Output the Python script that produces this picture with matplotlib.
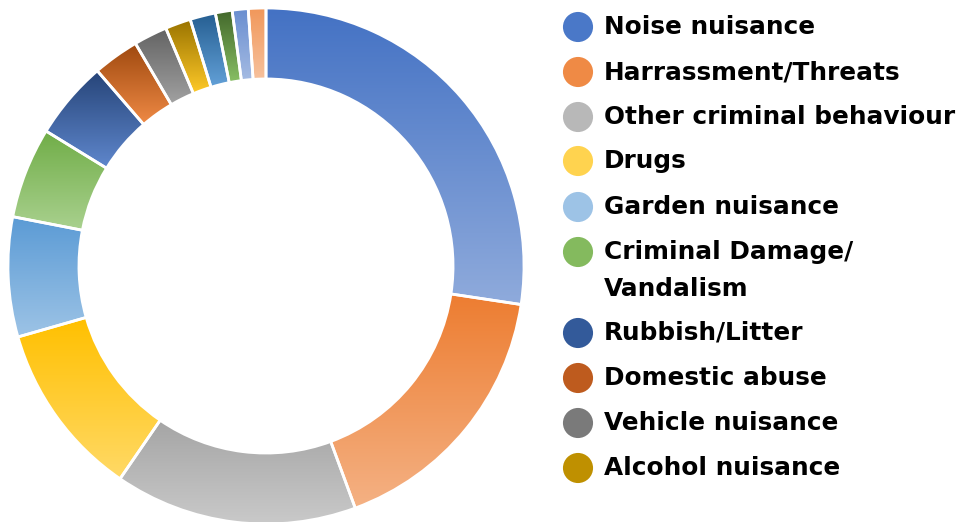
import colorsys
import numpy as np
import matplotlib.pyplot as plt
from matplotlib.colors import to_rgb

categories = ["Noise nuisance", "Harrassment/Threats", "Other criminal behaviour",
              "Drugs", "Garden nuisance", "Criminal Damage/\nVandalism",
              "Rubbish/Litter", "Domestic abuse", "Vehicle nuisance",
              "Alcohol nuisance", "Other 1", "Other 2", "Other 3", "Other 4"]
values = [27.4, 17.0, 15.2, 11.0, 7.5, 5.7, 4.9, 2.9, 2.1, 1.6, 1.6, 1.05, 1.0, 1.1]
colors = ["#4472C4", "#ED7D31", "#A5A5A5", "#FFC000", "#5B9BD5", "#70AD47",
          "#264478", "#9E480E", "#636363", "#997300", "#255E91", "#43682B",
          "#698ED0", "#F1975A"]
legend_colors = ["#4A78C8", "#EF8A45", "#B8B8B8", "#FFD34F", "#9DC3E6", "#84BA5E",
                 "#335A9A", "#BE5B1E", "#7A7A7A", "#BF9000"]
n_legend = 10


def tint(c, k):
    # lighten in HLS space, keeping saturation (like office "lighter x%")
    h, l, s = colorsys.rgb_to_hls(*to_rgb(c))
    return np.array(colorsys.hls_to_rgb(h, l + (1 - l) * k, s))


W, H = 958, 522
fig = plt.figure(figsize=(W / 100, H / 100), dpi=100)

cx, cy, r = 266, 266, 258
ax = fig.add_axes([(cx - r) / W, (H - cy - r) / H, 2 * r / W, 2 * r / H])
wedges, _ = ax.pie(values, startangle=90, counterclock=False, radius=1,
                   wedgeprops=dict(width=0.275, edgecolor="white", linewidth=2))

# vertical gradient inside each wedge: base colour at top, lighter at bottom
for w, c in zip(wedges, colors):
    w.set_zorder(3)
    w.set_facecolor("none")
    bb = w.get_path().get_extents()
    base = np.array(to_rgb(c))
    light = tint(c, 0.4)
    t = np.linspace(0, 1, 64)[:, None]
    grad = (base * (1 - t) + light * t)[:, None, :]
    im = ax.imshow(grad, extent=[bb.x0, bb.x1, bb.y0, bb.y1], aspect="auto",
                   interpolation="bilinear", zorder=2)
    im.set_clip_path(w)

ax.set_xlim(-1, 1)
ax.set_ylim(-1, 1)
ax.set_aspect("equal")
ax.axis("off")

# legend drawn in pixel coordinates
lax = fig.add_axes([0, 0, 1, 1])
lax.set_xlim(0, W)
lax.set_ylim(H, 0)
lax.axis("off")
rows = [27, 72, 117, 161, 207, 252, 333, 378, 423, 468]
for i in range(n_legend):
    y = rows[i]
    lax.scatter([578], [y], s=470, color=legend_colors[i], edgecolors="none")
    for j, line in enumerate(categories[i].split("\n")):
        lax.text(604, y + j * 37, line, fontsize=17.8, fontweight="bold",
                 family="DejaVu Sans", va="center", ha="left", color="black")

fig.savefig("out.png", dpi=100)
